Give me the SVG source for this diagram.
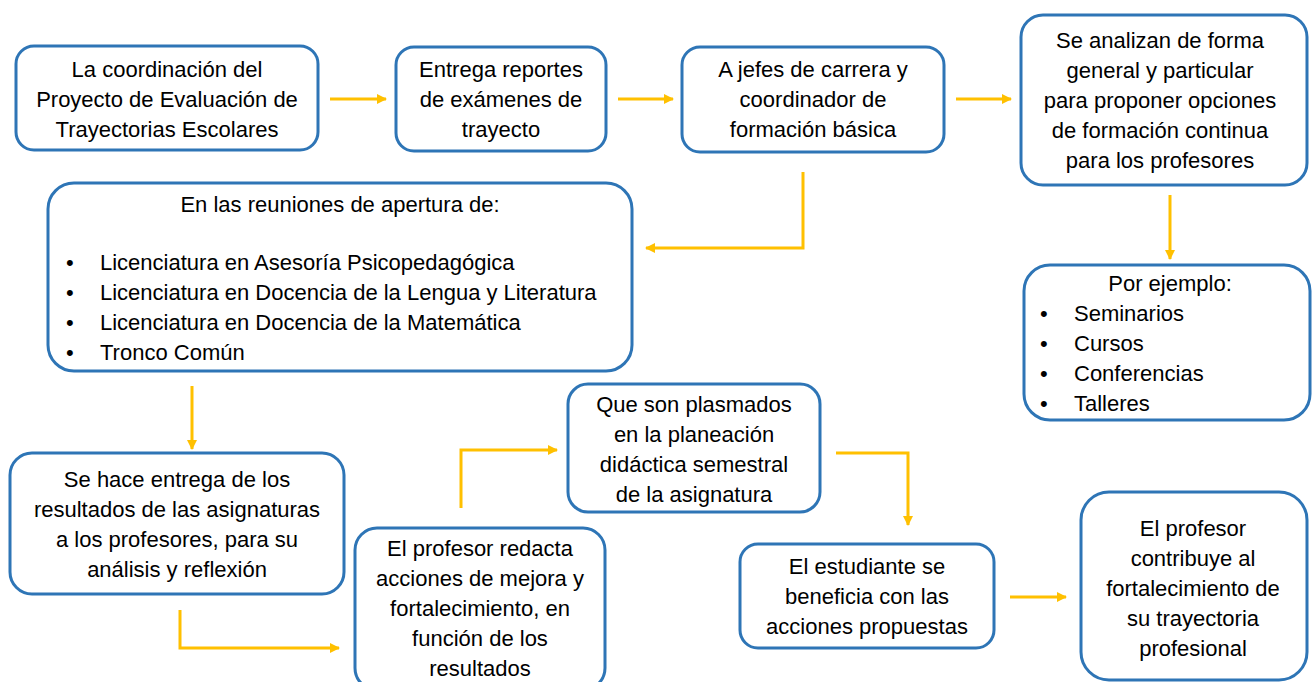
<svg xmlns="http://www.w3.org/2000/svg" width="1312" height="682" viewBox="0 0 1312 682">
<defs>
<style>
.box{fill:#fff;stroke:#2E75B6;stroke-width:3}
.t{font-family:"Liberation Sans",Arial,sans-serif;font-size:22px;fill:#000;text-anchor:middle}
.l{font-family:"Liberation Sans",Arial,sans-serif;font-size:22px;fill:#000}
.c{fill:none;stroke:#FFC000;stroke-width:3;marker-end:url(#ah)}
</style>
<marker id="ah" markerWidth="10" markerHeight="10" refX="9" refY="5" orient="auto" markerUnits="userSpaceOnUse" viewBox="0 0 10 10">
<path d="M0,0 L10,5 L0,10 z" fill="#FFC000"/>
</marker>
</defs>
<rect width="1312" height="682" fill="#fff"/>
<g id="connectors">
<path class="c" d="M330,99 H386"/>
<path class="c" d="M618,99 H673"/>
<path class="c" d="M956,99 H1011"/>
<path class="c" d="M803,172 V248 H646"/>
<path class="c" d="M1170,195 V259"/>
<path class="c" d="M192,386 V449"/>
<path class="c" d="M180,610 V648 H339"/>
<path class="c" d="M461,508 V450 H557"/>
<path class="c" d="M836,453 H908 V525"/>
<path class="c" d="M1010,597 H1066"/>
</g>
<g id="n1"><rect class="box" x="16" y="46" width="302" height="104" rx="18"/>
<text class="t" x="167" y="77">La coordinación del</text>
<text class="t" x="167" y="107">Proyecto de Evaluación de</text>
<text class="t" x="167" y="137">Trayectorias Escolares</text></g>
<g id="n2"><rect class="box" x="396" y="47" width="210" height="104" rx="18"/>
<text class="t" x="501" y="77">Entrega reportes</text>
<text class="t" x="501" y="107">de exámenes de</text>
<text class="t" x="501" y="137">trayecto</text></g>
<g id="n3"><rect class="box" x="682" y="47" width="262" height="105" rx="18"/>
<text class="t" x="813" y="77">A jefes de carrera y</text>
<text class="t" x="813" y="107">coordinador de</text>
<text class="t" x="813" y="137">formación básica</text></g>
<g id="n4"><rect class="box" x="1021" y="15" width="286" height="170" rx="22"/>
<text class="t" x="1160" y="48">Se analizan de forma</text>
<text class="t" x="1160" y="78">general y particular</text>
<text class="t" x="1160" y="108">para proponer opciones</text>
<text class="t" x="1160" y="138">de formación continua</text>
<text class="t" x="1160" y="168">para los profesores</text></g>
<g id="n5"><rect class="box" x="48" y="183" width="584" height="188" rx="26"/>
<text class="t" x="340" y="212">En las reuniones de apertura de:</text>
<text class="l" x="66" y="270">•</text><text class="l" x="100" y="270">Licenciatura en Asesoría Psicopedagógica</text>
<text class="l" x="66" y="300">•</text><text class="l" x="100" y="300">Licenciatura en Docencia de la Lengua y Literatura</text>
<text class="l" x="66" y="330">•</text><text class="l" x="100" y="330">Licenciatura en Docencia de la Matemática</text>
<text class="l" x="66" y="360">•</text><text class="l" x="100" y="360">Tronco Común</text></g>
<g id="n6"><rect class="box" x="1024" y="265" width="286" height="155" rx="26"/>
<text class="t" x="1170" y="291">Por ejemplo:</text>
<text class="l" x="1040" y="321">•</text><text class="l" x="1074" y="321">Seminarios</text>
<text class="l" x="1040" y="351">•</text><text class="l" x="1074" y="351">Cursos</text>
<text class="l" x="1040" y="381">•</text><text class="l" x="1074" y="381">Conferencias</text>
<text class="l" x="1040" y="411">•</text><text class="l" x="1074" y="411">Talleres</text></g>
<g id="n7"><rect class="box" x="10" y="453" width="334" height="141" rx="22"/>
<text class="t" x="177" y="487">Se hace entrega de los</text>
<text class="t" x="177" y="517">resultados de las asignaturas</text>
<text class="t" x="177" y="547">a los profesores, para su</text>
<text class="t" x="177" y="577">análisis y reflexión</text></g>
<g id="n8"><rect class="box" x="568" y="384" width="252" height="128" rx="20"/>
<text class="t" x="694" y="412">Que son plasmados</text>
<text class="t" x="694" y="442">en la planeación</text>
<text class="t" x="694" y="472">didáctica semestral</text>
<text class="t" x="694" y="502">de la asignatura</text></g>
<g id="n9"><rect class="box" x="355" y="528" width="250" height="162" rx="22"/>
<text class="t" x="480" y="556">El profesor redacta</text>
<text class="t" x="480" y="586">acciones de mejora y</text>
<text class="t" x="480" y="616">fortalecimiento, en</text>
<text class="t" x="480" y="646">función de los</text>
<text class="t" x="480" y="676">resultados</text></g>
<g id="n10"><rect class="box" x="740" y="544" width="254" height="104" rx="18"/>
<text class="t" x="867" y="574">El estudiante se</text>
<text class="t" x="867" y="604">beneficia con las</text>
<text class="t" x="867" y="634">acciones propuestas</text></g>
<g id="n11"><rect class="box" x="1081" y="492" width="226" height="188" rx="28"/>
<text class="t" x="1193" y="536">El profesor</text>
<text class="t" x="1193" y="566">contribuye al</text>
<text class="t" x="1193" y="596">fortalecimiento de</text>
<text class="t" x="1193" y="626">su trayectoria</text>
<text class="t" x="1193" y="656">profesional</text></g>
</svg>
